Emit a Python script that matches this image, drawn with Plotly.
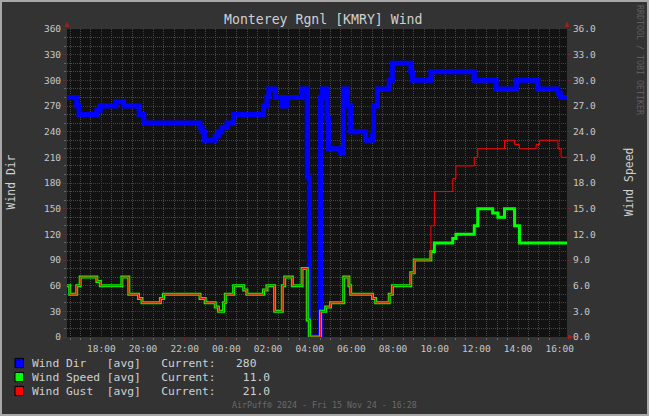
import plotly.graph_objects as go

# ---------------- data ----------------
dir_times = ["16:21","16:49","16:56","17:47","17:57","18:42","19:04","19:49","20:02","22:44",
             "22:50","22:57","23:28","23:37","23:47","00:02","00:21","01:47","01:57","02:02",
             "02:21","02:41","02:55","03:38","03:53","03:59","04:31","04:37","04:50","04:54",
             "05:29","05:37","05:49","05:58","06:41","07:01","07:04","07:15","07:49","07:58",
             "08:51","08:56","09:49","11:54","12:57","13:55","14:57","15:55","16:02","16:21"]
dir_values = [280,270,260,265,270,275,270,260,250,245,
              240,230,235,240,245,250,260,270,280,290,
              280,270,280,290,187,0,280,290,255,220,
              215,290,270,240,230,235,270,290,300,320,
              310,300,310,300,290,300,290,285,280,280]

speed_times = ["16:21","16:29","16:49","16:59","17:47","17:57","18:59","19:19","19:47","19:57",
               "20:50","20:59","22:44","22:59","23:28","23:37","23:52","23:57","00:21","00:50",
               "00:59","01:47","01:57","02:19","02:41","02:48","03:10","03:38","03:53","03:59",
               "04:31","04:46","05:00","05:38","05:53","05:58","07:01","07:10","07:49","07:58",
               "08:51","09:01","09:49","09:59","10:52","11:01","11:54","12:04","12:47","13:02",
               "13:21","13:50","14:04","16:21"]
speed_values = [6,5,6,7,6.5,6,7,5,4.5,4,
                4.5,5,4.5,4,3.5,3,4,5,6,5.5,
                5,5.5,6,3,6,7,6,8,2,0,
                3,3.5,4,7,6,5,4.5,4,5,6,
                7.5,9,10,11,11.5,12,13,15,14.5,14,
                15,13,11,11]

gust_times = ["16:21","16:29","16:49","16:59","17:47","17:57","18:59","19:19","19:47","19:57",
              "20:50","20:59","22:44","22:59","23:28","23:37","23:52","23:57","00:21","00:50",
              "00:59","01:47","01:57","02:19","02:41","02:48","03:10","03:38","03:53","03:59",
              "04:31","04:46","05:00","05:38","05:53","05:58","07:01","07:10","07:49","07:58",
              "08:51","09:01","09:49","09:59","10:52","11:01","11:54","12:04","13:21","13:50",
              "14:04","14:52","15:02","15:55","16:04","16:21"]
gust_values = [6,5,6,7,6.5,6,7,5,4.5,4,
               4.5,5,4.5,4,3.5,3,4,5,6,5.5,
               5,5.5,6,3,6,7,6,8,2,0,
               3,3.5,4,7,6,5,4.5,4,5,6,
               7.5,9,13,17,18.5,20,21,22,23,22.5,
               22,22.5,23,22,21,21]

x_start = "2024-11-14 16:21"
x_end = "2024-11-15 16:21"
dir_ticks = list(range(0, 361, 30))
legend_rows = [("Wind Dir   [avg]   Current:   280", "#0000ff"),
               ("Wind Speed [avg]   Current:    11.0", "#00ff00"),
               ("Wind Gust  [avg]   Current:    21.0", "#ff0000")]


def to_dt(times):
    out, day, prev = [], 14, None
    for s in times:
        h, m = map(int, s.split(":"))
        mins = h * 60 + m
        if prev is not None and mins < prev:
            day = 15
        prev = mins
        out.append(f"2024-11-{day} {s}")
    return out


# ---------------- geometry helpers ----------------
W, H = 649, 416
L, R, T, B = 67, 82, 29, 79
PW, PH = W - L - R, H - T - B


def px(x):
    return (x - L) / PW


def py(y):
    return (H - B - y) / PH


FONT = "DejaVu Sans Mono"

fig = go.Figure()
fig.add_trace(go.Scatter(x=to_dt(dir_times), y=dir_values, mode="lines", line_shape="hv",
                         line=dict(color="#0000ff", width=5), name="Wind Dir"))
fig.add_trace(go.Scatter(x=to_dt(speed_times), y=speed_values, mode="lines", line_shape="hv",
                         line=dict(color="#00ff00", width=3), yaxis="y2", name="Wind Speed"))
fig.add_trace(go.Scatter(x=to_dt(gust_times), y=gust_values, mode="lines", line_shape="hv",
                         line=dict(color="#ff0000", width=1), yaxis="y2", name="Wind Gust"))

major = "#6e2828"
minorc = "#474747"
tickc = "#c8c8c8"

fig.update_layout(
    width=W, height=H,
    margin=dict(l=L, r=R, t=T, b=B),
    paper_bgcolor="#333333", plot_bgcolor="#121212",
    showlegend=False,
    font=dict(family=FONT, color=tickc),
    xaxis=dict(type="date", range=[x_start, x_end], tick0="2024-11-14 00:00", dtick=7200000,
               tickformat="%H:%M", showgrid=True, gridcolor=major, griddash="1px,1px",
               gridwidth=1, zeroline=False, showline=False,
               ticks="outside", ticklen=3, tickcolor=major,
               tickfont=dict(size=9.5, color=tickc, family=FONT),
               minor=dict(dtick=1800000, tick0="2024-11-14 00:00", showgrid=True,
                          gridcolor=minorc, griddash="1px,1px", ticks="outside",
                          ticklen=2, tickcolor="#666666"),
               fixedrange=True),
    yaxis=dict(range=[0, 360], tickvals=dir_ticks, showgrid=True, gridcolor=major,
               griddash="1px,1px", zeroline=False, showline=False,
               ticks="outside", ticklen=3, tickcolor=major,
               tickfont=dict(size=9.5, color=tickc, family=FONT),
               minor=dict(dtick=10, tick0=0, showgrid=True, gridcolor=minorc,
                          griddash="1px,1px", ticks="outside", ticklen=2, tickcolor="#666666"),
               fixedrange=True),
    yaxis2=dict(range=[0, 36], overlaying="y", side="right", dtick=3, tick0=0,
                tickformat=".1f", showgrid=False, zeroline=False, showline=False,
                ticks="outside", ticklen=3, tickcolor=major,
                tickfont=dict(size=9.5, color=tickc, family=FONT), fixedrange=True),
)

shapes = []
# outer frame
shapes.append(dict(type="rect", xref="paper", yref="paper", x0=px(1), x1=px(648), y0=py(415), y1=py(1),
                   line=dict(color="#a8a8a8", width=2), fillcolor="rgba(0,0,0,0)", layer="above"))
# axis arrows
ac = "#a02020"
shapes.append(dict(type="path", xref="paper", yref="paper",
                   path=f"M {px(64.5)},{py(27)} L {px(69.5)},{py(27)} L {px(67)},{py(21.5)} Z",
                   fillcolor=ac, line=dict(width=0), layer="above"))
shapes.append(dict(type="path", xref="paper", yref="paper",
                   path=f"M {px(564.5)},{py(27)} L {px(569.5)},{py(27)} L {px(567)},{py(21.5)} Z",
                   fillcolor=ac, line=dict(width=0), layer="above"))
shapes.append(dict(type="path", xref="paper", yref="paper",
                   path=f"M {px(568)},{py(334.5)} L {px(568)},{py(339.5)} L {px(573.5)},{py(337)} Z",
                   fillcolor=ac, line=dict(width=0), layer="above"))

annotations = []
row_y = [363, 377, 391]
for (txt, col), yy in zip(legend_rows, row_y):
    shapes.append(dict(type="rect", xref="paper", yref="paper", x0=px(15), x1=px(23.5),
                       y0=py(yy + 4.6), y1=py(yy - 4.6), fillcolor=col,
                       line=dict(color="#000000", width=1)))
    annotations.append(dict(xref="paper", yref="paper", x=px(29.5), y=py(yy), xanchor="left",
                            yanchor="middle", showarrow=False, text=txt.replace(" ", "\u00a0"),
                            font=dict(family=FONT, size=11.3, color="#d0d0d0")))

annotations.append(dict(xref="paper", yref="paper", x=px(323.5), y=py(19.3), xanchor="center",
                        yanchor="middle", showarrow=False, text="Monterey Rgnl [KMRY] Wind",
                        font=dict(family=FONT, size=13.2, color="#d0d0d0")))
annotations.append(dict(xref="paper", yref="paper", x=px(10.7), y=py(181.7), xanchor="center",
                        yanchor="middle", showarrow=False, text="Wind Dir", textangle=-90,
                        font=dict(family=FONT, size=11.4, color="#d0d0d0")))
annotations.append(dict(xref="paper", yref="paper", x=px(628.5), y=py(181.7), xanchor="center",
                        yanchor="middle", showarrow=False, text="Wind Speed", textangle=-90,
                        font=dict(family=FONT, size=11.4, color="#d0d0d0")))
annotations.append(dict(xref="paper", yref="paper", x=px(640), y=py(60), xanchor="center",
                        yanchor="middle", showarrow=False, text="RRDTOOL / TOBI OETIKER", textangle=90,
                        font=dict(family=FONT, size=8.3, color="#5e5e5e")))
annotations.append(dict(xref="paper", yref="paper", x=px(324), y=py(405), xanchor="center",
                        yanchor="middle", showarrow=False,
                        text="AirPuff\u00ae 2024 - Fri 15 Nov 24 - 16:28",
                        font=dict(family=FONT, size=8.3, color="#6a6a6a")))

fig.update_layout(shapes=shapes, annotations=annotations)
fig.write_html("out.html", config={"displayModeBar": False},
               post_script="document.body.style.margin='0px';document.body.style.padding='0px';"
                           "document.body.style.overflow='hidden';")
